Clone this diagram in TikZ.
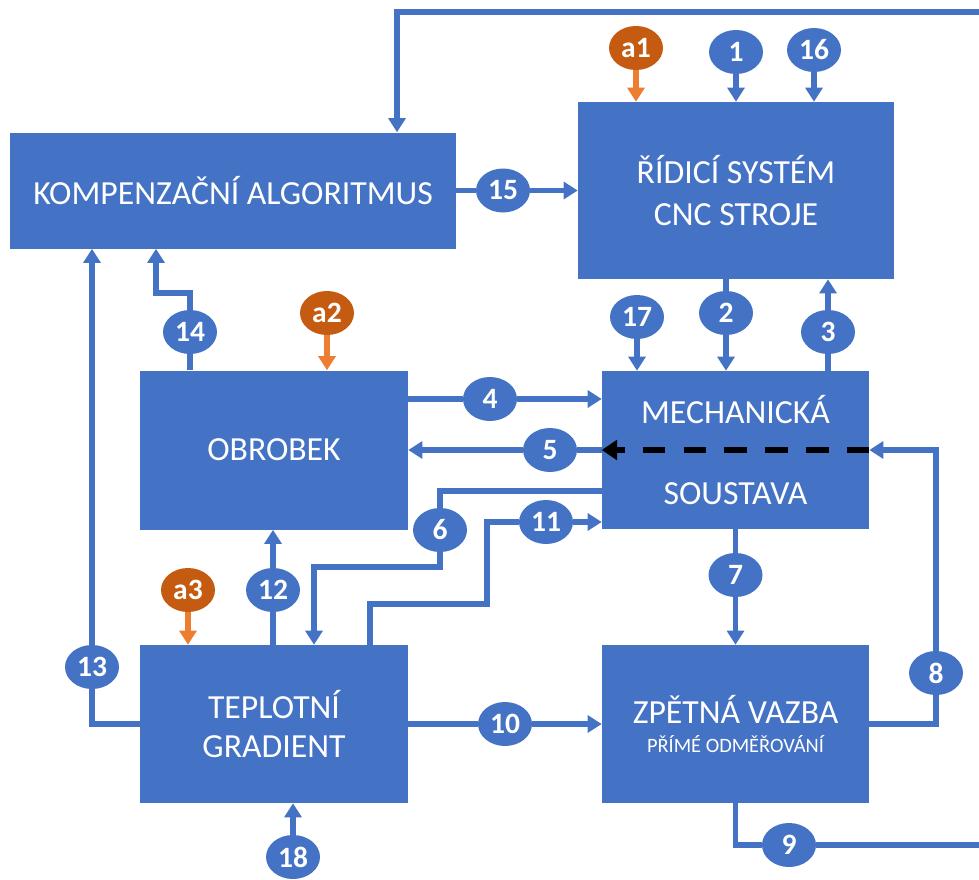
\documentclass[tikz,border=0pt]{standalone}
\usepackage{fontspec}
\setmainfont{Carlito}
\usetikzlibrary{arrows.meta,shapes.geometric,positioning}
\definecolor{boxblue}{HTML}{4472C4}
\definecolor{tagorange}{HTML}{C55A11}
\definecolor{arroworange}{HTML}{ED7D31}

\begin{document}
\begin{tikzpicture}[line join=miter,>={Triangle[width=12pt,length=10pt]},x=0.25mm,y=-0.25mm]

\def\lw{3.8pt} %connector width
\def\tw{13.5mm} %tag width
\def\th{11mm} %tag height

\tikzset{
 box/.style={rectangle, fill=boxblue, text=white, align=center, inner sep=0pt, font=\fontsize{24}{30}\selectfont},
 tag/.style={ellipse, fill=boxblue, text=white, inner sep=0pt, minimum width=\tw, minimum height=\th, font=\bfseries\fontsize{21}{21}\selectfont},
 atag/.style={tag, fill=tagorange},
 flow/.style={draw=boxblue, line width=\lw, ->},
 link/.style={draw=boxblue, line width=\lw},
 aflow/.style={draw=arroworange, line width=\lw, ->},
 dflow/.style={draw=black, line width=4.5pt, dash pattern=on 16pt off 13pt, -{Triangle[width=14pt,length=11pt]}},
}

\useasboundingbox (0,0) rectangle (979,879);

%boxes
\node[box, minimum width=111.5mm, minimum height=29mm] (komp) at (233,190.5) {KOMPENZAČNÍ ALGORITMUS};
\node[box, minimum width=79mm, minimum height=44.25mm] (ridici) at (736,190.5) {ŘÍDICÍ SYSTÉM\\CNC STROJE};
\node[box, minimum width=67mm, minimum height=39.75mm] (obrobek) at (274,450) {OBROBEK};
\node[box, minimum width=66.75mm, minimum height=39.5mm] (mech) at (735.5,450) {MECHANICKÁ\\[27pt]SOUSTAVA};
\node[box, minimum width=67mm, minimum height=39.5mm] (teplot) at (274,724) {TEPLOTNÍ\\[-2pt]GRADIENT};
\node[box, minimum width=66.75mm, minimum height=39.5mm] (zpetna) at (735.5,724) {ZPĚTNÁ VAZBA\\[-10pt]{\fontsize{14.5}{16}\selectfont PŘÍMÉ ODMĚŘOVÁNÍ}};

%tags
\node[atag] (ta1) at (636,48) {a1};
\node[tag] (t1) at (736,52) {1};
\node[tag] (t16) at (814,50) {16};
\node[tag] (t15) at (503,190.5) {15};
\node[tag] (t17) at (637,317) {17};
\node[tag] (t2) at (726,313) {2};
\node[tag] (t3) at (828,332) {3};
\node[tag] (t14) at (190,332) {14};
\node[atag] (ta2) at (327,313) {a2};
\node[tag] (t4) at (490,399) {4};
\node[tag] (t5) at (550,450) {5};
\node[tag] (t6) at (440,530) {6};
\node[tag] (t11) at (546,522) {11};
\node[tag] (t7) at (735.5,575) {7};
\node[tag] (t8) at (936,673) {8};
\node[tag] (t12) at (273,590) {12};
\node[atag] (ta3) at (188,590) {a3};
\node[tag] (t13) at (92,667) {13};
\node[tag] (t10) at (505,724) {10};
\node[tag] (t18) at (293,857) {18};
\node[tag] (t9) at (789,845) {9};

%bends and free ends
\coordinate (e1) at (979,12);
\coordinate (k1) at (397,12);
\coordinate (b14) at (156,293);
\coordinate (j6a) at (440,491);
\coordinate (j6b) at (314,567);
\coordinate (j11a) at (370,604);
\coordinate (j11b) at (487,522);
\coordinate (e9) at (979,845);

%connectors
\draw[flow] (e1) -- (k1) -- (k1 |- komp.north);
\draw[flow] (komp.east) -- (t15) -- (ridici.west);
\draw[aflow] (ta1) -- (ta1 |- ridici.north);
\draw[flow] (t1) -- (t1 |- ridici.north);
\draw[flow] (t16) -- (t16 |- ridici.north);
\draw[flow] (ridici.south -| t2) -- (t2) -- (t2 |- mech.north);
\draw[flow] (mech.north -| t3) -- (t3) -- (t3 |- ridici.south);
\draw[flow] (t17) -- (t17 |- mech.north);
\draw[flow] (obrobek.north -| t14) -- (t14) |- (b14) -- (b14 |- komp.south);
\draw[aflow] (ta2) -- (ta2 |- obrobek.north);
\draw[flow] (obrobek.east |- t4) -- (t4) -- (mech.west |- t4);
\draw[flow] (mech.west) -- (t5) -- (obrobek.east);
\draw[dflow] (mech.east) -- (mech.west); %inner path
\draw[flow] (zpetna.east) -| (t8) |- (mech.east);
\draw[flow] (mech.west |- j6a) -- (j6a) -- (t6) |- (j6b) -- (j6b |- teplot.north);
\draw[flow] (teplot.north -| j11a) -- (j11a) -| (j11b) -- (t11) -- (mech.west |- t11);
\draw[flow] (mech.south) -- (t7) -- (zpetna.north);
\draw[flow] (teplot.north -| t12) -- (t12) -- (t12 |- obrobek.south);
\draw[aflow] (ta3) -- (ta3 |- teplot.north);
\draw[flow] (teplot.west) -| (t13) -- (t13 |- komp.south);
\draw[flow] (teplot.east) -- (t10) -- (zpetna.west);
\draw[flow] (t18) -- (t18 |- teplot.south);
\draw[link] (zpetna.south) |- (t9) -- (e9);

\end{tikzpicture}
\end{document}
